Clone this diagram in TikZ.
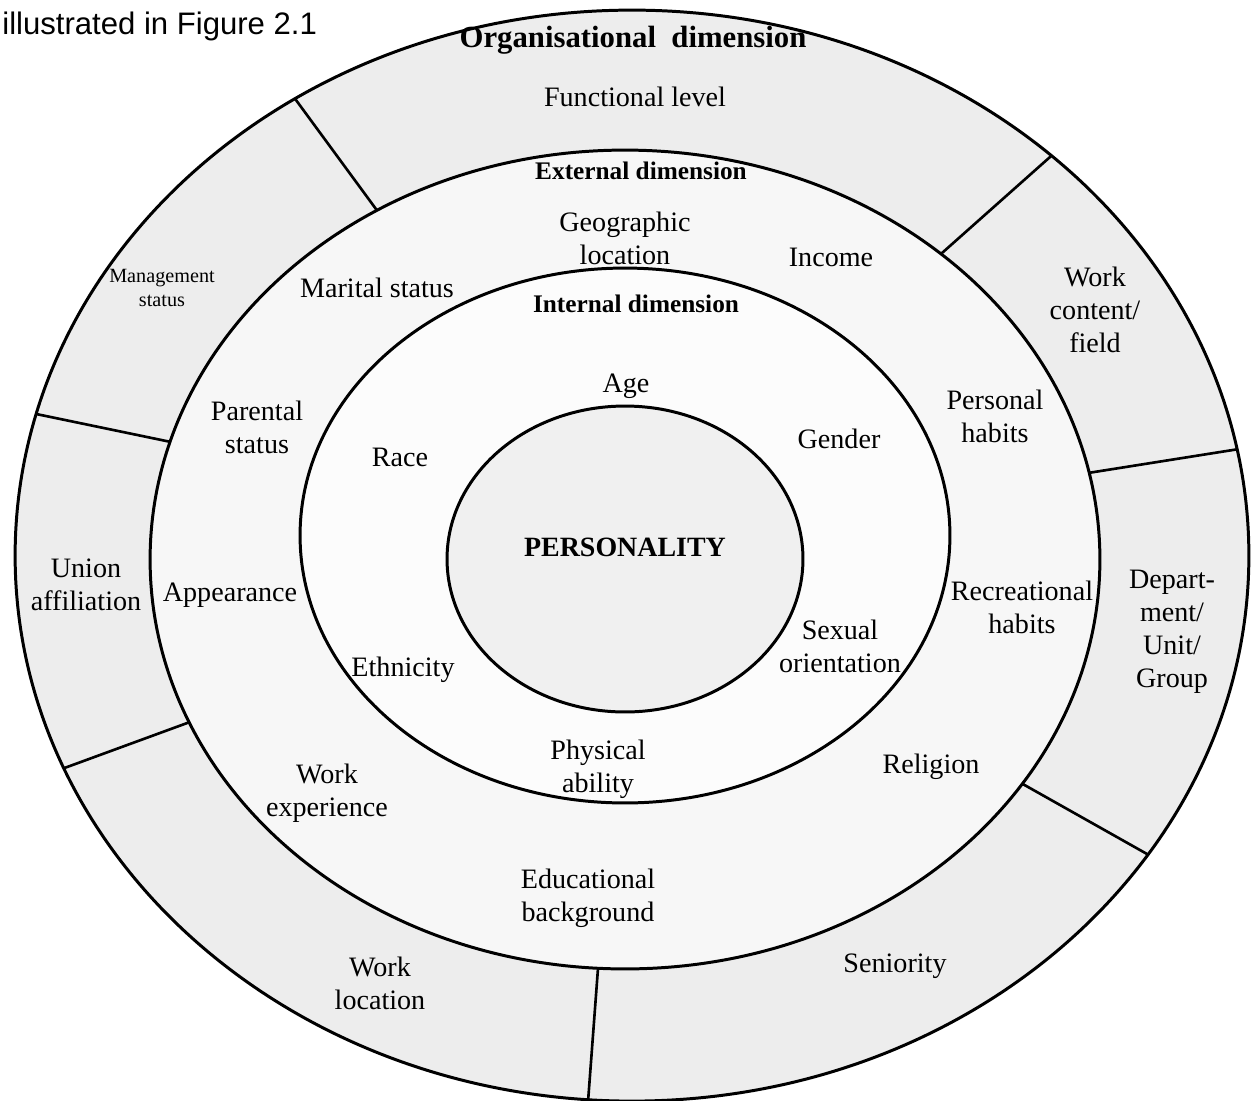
\documentclass[tikz,border=0pt]{standalone}
\usepackage{fontspec}
\setmainfont{Liberation Serif}
\newfontfamily\arialfont{Liberation Sans}
\begin{document}
\begin{tikzpicture}[x=0.02cm,y=-0.02cm,
  ring/.style={line width=1.7pt},
  divider/.style={line width=1.5pt},
  lbl/.style={font=\fontsize{16}{18.8}\selectfont, align=center, inner sep=0pt},
  smalllbl/.style={font=\fontsize{11.5}{13.2}\selectfont, align=center, inner sep=0pt},
  head/.style={font=\bfseries\fontsize{14.4}{17}\selectfont, inner sep=0pt},
]
\useasboundingbox (0,0) rectangle (1251,1100);
\begin{scope}
  \clip (0,0) rectangle (1251,1100);
  % shaded bands, from the outside in
  \fill[black!7] (632,555.6) ellipse [x radius=12.34cm, y radius=10.912cm];
  \fill[black!3] (625,559.5) ellipse [x radius=9.5cm, y radius=8.19cm];
  \fill[black!1] (625,535.5) ellipse [x radius=6.5cm, y radius=5.35cm];
  \fill[black!6] (625,559)   ellipse [x radius=3.56cm, y radius=3.06cm];
  % outlines
  \draw[ring] (632,555.6) ellipse [x radius=12.34cm, y radius=10.912cm];
  \draw[ring] (625,559.5) ellipse [x radius=9.5cm, y radius=8.19cm];
  \draw[ring] (625,535.5) ellipse [x radius=6.5cm, y radius=5.35cm];
  \draw[ring] (625,559)   ellipse [x radius=3.56cm, y radius=3.06cm];
  % end points of the organisational segments
  \coordinate (o1) at (294.8,98.4);   \coordinate (e1) at (376.9,210.3);
  \coordinate (o2) at (36.2,414.0);   \coordinate (e2) at (170.1,441.8);
  \coordinate (o3) at (63.6,768.3);   \coordinate (e3) at (189.1,722.3);
  \coordinate (o4) at (588,1102);     \coordinate (e4) at (598,968.3);
  \coordinate (o5) at (1148.1,854.6); \coordinate (e5) at (1022.4,783.8);
  \coordinate (o6) at (1237.2,449.3); \coordinate (e6) at (1089.2,472.8);
  \coordinate (o7) at (1051.6,155.6); \coordinate (e7) at (941.1,253.8);
  \foreach \i in {1,...,7} \draw[divider] (o\i) -- (e\i);
\end{scope}

% caption fragment
\node[anchor=west, inner sep=0pt, font=\arialfont\fontsize{17.7}{20}\selectfont] (cap) at (2,26) {illustrated in Figure 2.1};

% organisational dimension
\node[head, font=\bfseries\fontsize{17.5}{20}\selectfont] (orghead) at (633,40) {Organisational~~dimension};
\node[lbl] (func) at (635,97) {Functional level};
\node[smalllbl] (mgmt) at (162,288) {Management\\status};
\node[lbl] (union) at (86,585) {Union\\affiliation};
\node[lbl] (wloc) at (380,983) {Work\\location};
\node[lbl] (senior) at (895,966) {Seniority};
\node[lbl] (dept) at (1172,632) {Depart-\\ment/\\Unit/\\Group};
\node[lbl] (wcont) at (1095,310) {Work\\content/\\field};

% external dimension
\node[head] (exthead) at (641,171) {External dimension};
\node[lbl] (geo) at (625,238) {Geographic\\location};
\node[lbl] (income) at (831,257) {Income};
\node[lbl] (marital) at (377,288) {Marital status};
\node[lbl] (parental) at (257,427) {Parental\\status};
\node[lbl] (appear) at (230,595) {Appearance};
\node[lbl] (wexp) at (327,793) {Work\\experience};
\node[lbl] (edu) at (588,898) {Educational\\background};
\node[lbl] (relig) at (931,767) {Religion};
\node[lbl] (recr) at (1022,607) {Recreational\\habits};
\node[lbl] (pers) at (995,416) {Personal\\habits};

% internal dimension
\node[head] (inthead) at (636,304) {Internal dimension};
\node[lbl] (age) at (626,386) {Age};
\node[lbl] (gender) at (839,439) {Gender};
\node[lbl] (race) at (400,457) {Race};
\node[lbl] (ethn) at (403,670) {Ethnicity};
\node[lbl] (sexual) at (840,646) {Sexual\\orientation};
\node[lbl] (phys) at (598,769) {Physical\\ability};

% core
\node[head, font=\bfseries\fontsize{15.9}{18}\selectfont] (core) at (625,547) {PERSONALITY};
\end{tikzpicture}
\end{document}
